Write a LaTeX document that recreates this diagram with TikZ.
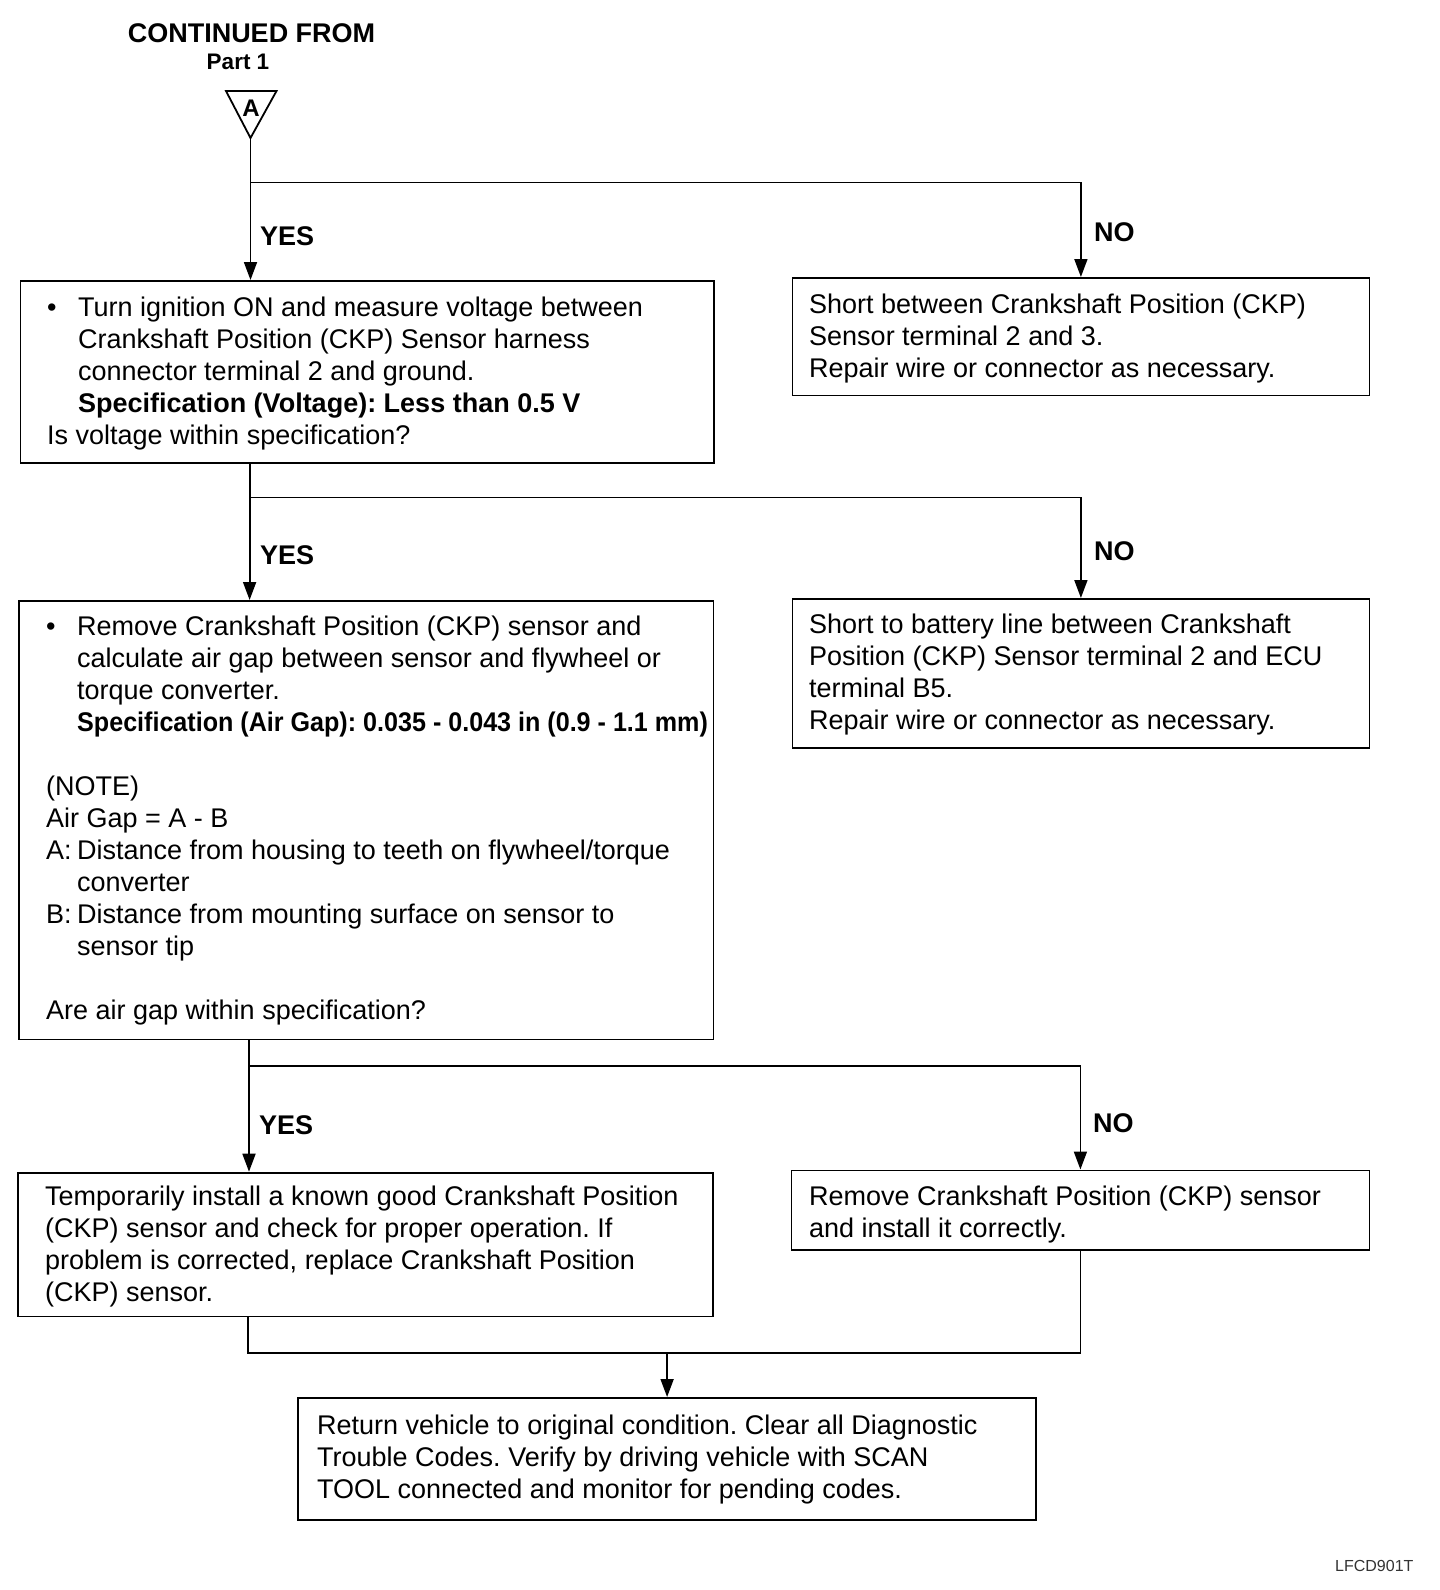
\documentclass[tikz,border=0pt]{standalone}
\usepackage{fontspec}
\setmainfont{Liberation Sans}
\usepackage{graphicx}
\usetikzlibrary{arrows.meta}
\frenchspacing
\newcommand\myind{\hspace*{31pt}}
\newcommand\mybul{\makebox[31pt][l]{•}}
\begin{document}
\begin{tikzpicture}[x=1pt,y=-1pt,
  box/.style={draw, line width=1.8pt, inner sep=0pt, anchor=north west},
  txt/.style={inner sep=0pt, anchor=north west, align=left, font=\fontsize{27}{32}\selectfont\frenchspacing},
  lbl/.style={inner sep=0pt, anchor=base west, font=\fontsize{27}{32}\selectfont\bfseries},
  conn/.style={line width=1.8pt},
  arr/.style={conn, -{Triangle[width=13pt,length=18pt]}}]
\useasboundingbox (0pt,0pt) rectangle (1440pt,-1590pt);

% header
\node[inner sep=0pt, anchor=base, font=\fontsize{27}{32}\selectfont\bfseries] (cont) at (251.5,42) {CONTINUED FROM};
\node[inner sep=0pt, anchor=base, font=\fontsize{22.5}{27}\selectfont\bfseries] (part) at (238,69) {Part 1};
\coordinate (apex) at (250.5,138);
\draw[conn, line join=miter] (226,91) -- (276.5,91) -- (apex) -- cycle;
\node[inner sep=0pt, anchor=base, font=\fontsize{24}{28}\selectfont\bfseries] (triA) at (251,116) {A};

% boxes
\node[box, minimum width=693.5pt, minimum height=182pt] (b1) at (19.5,280) {};
\node[box, minimum width=577pt, minimum height=117.5pt] (n1) at (791.5,277) {};
\node[box, minimum width=694.2pt, minimum height=438.5pt] (b2) at (18.3,600) {};
\node[box, minimum width=577pt, minimum height=149pt] (n2) at (791.5,598) {};
\node[box, minimum width=694.9pt, minimum height=143.8pt] (b3) at (17.3,1171.7) {};
\node[box, minimum width=578pt, minimum height=79.5pt] (n3) at (790.5,1169.5) {};
\node[box, minimum width=738pt, minimum height=121.7pt] (fin) at (297.2,1397) {};

% texts
\node[txt] (t1) at (47,293.6) {\strut\mybul Turn ignition ON and measure voltage between\\
\myind Crankshaft Position (CKP) Sensor harness\\
\myind connector terminal 2 and ground.\\
\myind\textbf{Specification (Voltage): Less than 0.5 V}\\
Is voltage within specification?};

\node[txt] (tn1) at (809,290.6) {\strut Short between Crankshaft Position (CKP)\\
Sensor terminal 2 and 3.\\
Repair wire or connector as necessary.};

\node[txt] (t2) at (46,613.3) {\strut\mybul Remove Crankshaft Position (CKP) sensor and\\
\myind calculate air gap between sensor and flywheel or\\
\myind torque converter.\\
\myind\scalebox{0.93}[1]{\textbf{Specification (Air Gap): 0.035 - 0.043 in (0.9 - 1.1 mm)}}\\
\mbox{}\\
(NOTE)\\
Air Gap = A - B\\
\makebox[31pt][l]{A:}Distance from housing to teeth on flywheel/torque\\
\myind converter\\
\makebox[31pt][l]{B:}Distance from mounting surface on sensor to\\
\myind sensor tip\\
\mbox{}\\
Are air gap within specification?};

\node[txt] (tn2) at (809,611.2) {\strut Short to battery line between Crankshaft\\
Position (CKP) Sensor terminal 2 and ECU\\
terminal B5.\\
Repair wire or connector as necessary.};

\node[txt] (t3) at (45,1183.3) {\strut Temporarily install a known good Crankshaft Position\\
(CKP) sensor and check for proper operation. If\\
problem is corrected, replace Crankshaft Position\\
(CKP) sensor.};

\node[txt] (tn3) at (809,1182.6) {\strut Remove Crankshaft Position (CKP) sensor\\
and install it correctly.};

\node[txt] (tf) at (317,1411.6) {\strut Return vehicle to original condition. Clear all Diagnostic\\
Trouble Codes. Verify by driving vehicle with SCAN\\
TOOL connected and monitor for pending codes.};

% junctions
\coordinate (j1) at (250.5,182.5);
\coordinate (j2) at (249.6,497.5);
\coordinate (j3) at (249,1066);
\coordinate (j4) at (248,1353.3);

% connectors
\draw[arr] (apex) -- (apex |- b1.north);
\draw[arr] (j1) -| (n1.north);
\draw[arr] (j2 |- b1.south) -- (j2 |- b2.north);
\draw[arr] (j2) -| (n2.north);
\draw[arr] (j3 |- b2.south) -- (j3 |- b3.north);
\draw[arr] (j3) -| (n3.north);
\draw[conn] (j4 |- b3.south) -- (j4) -| (n3.south);
\draw[arr] (fin.north |- j4) -- (fin.north);

% labels
\node[lbl] (y1) at (260,245) {YES};
\node[lbl] (no1) at (1094,241.4) {NO};
\node[lbl] (y2) at (260,564.7) {YES};
\node[lbl] (no2) at (1094,560.6) {NO};
\node[lbl] (y3) at (259,1134.7) {YES};
\node[lbl] (no3) at (1093,1132.7) {NO};

\node[inner sep=0pt, anchor=base west, font=\fontsize{16}{19}\selectfont, text=black!80] (code) at (1335,1571) {LFCD901T};
\end{tikzpicture}
\end{document}
